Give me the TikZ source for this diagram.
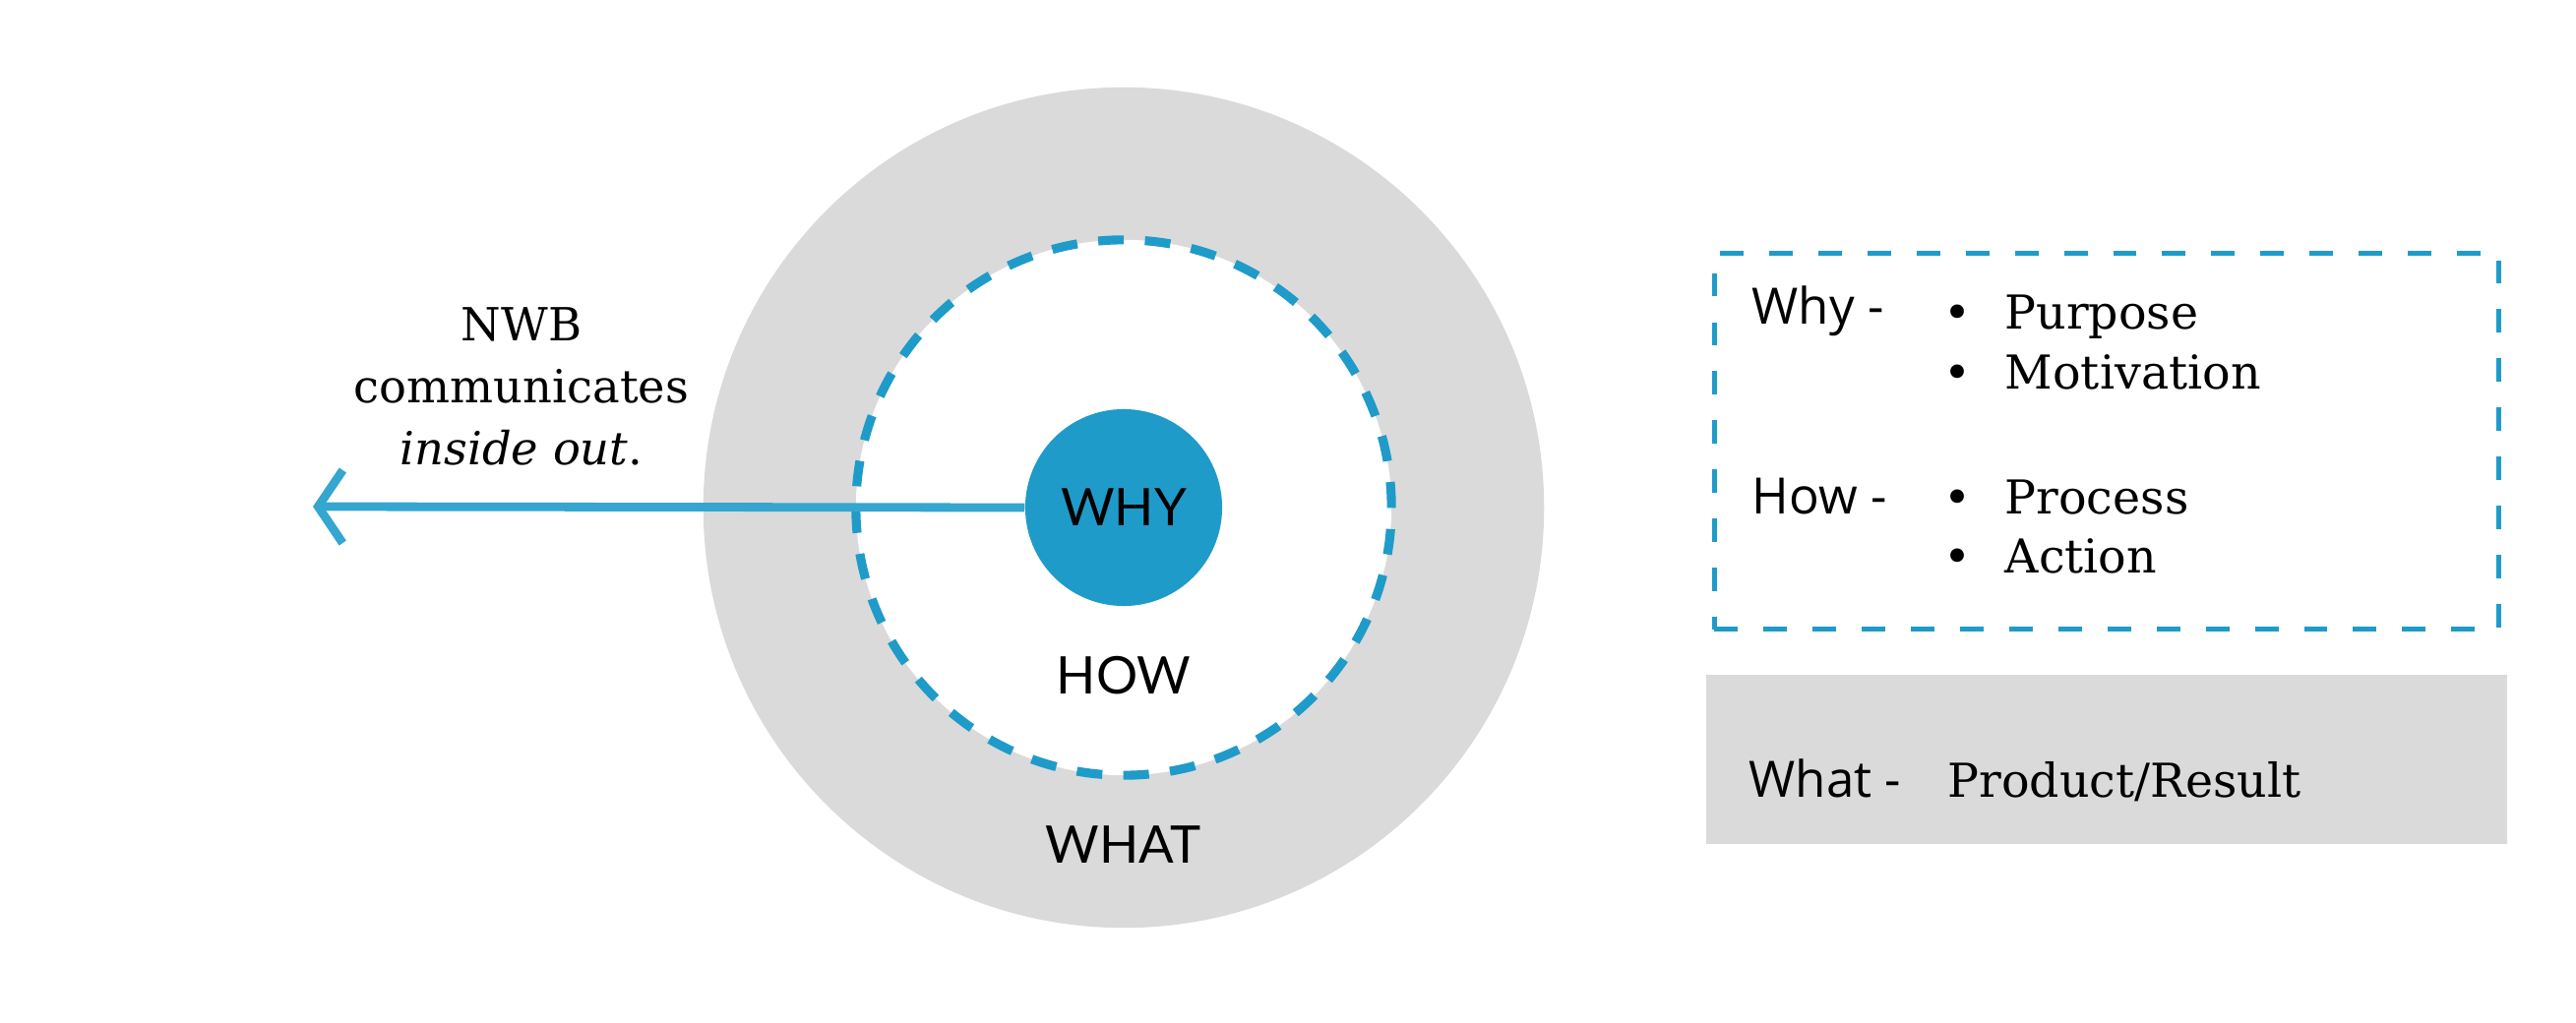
\documentclass[tikz,border=0pt]{standalone}
\usepackage{fontspec}
\setmainfont{DejaVu Serif}
\newfontfamily\ringfont{Lato}
\newfontfamily\keyfont{Open Sans}
\usetikzlibrary{arrows.meta}
\definecolor{ringgrey}{HTML}{DADADA}
\definecolor{whyblue}{HTML}{1F9BC9}
\definecolor{arrowblue}{HTML}{35A6CF}

\begin{document}
\begin{tikzpicture}[x=0.01cm, y=-0.01cm,
    ring/.style={circle, inner sep=0pt},
    ringlabel/.style={font=\ringfont\fontsize{15}{18}\selectfont},
    keylabel/.style={font=\keyfont\fontsize{14.5}{17}\selectfont, anchor=base west, inner sep=0pt},
    itemtext/.style={font=\fontsize{13.5}{16}\selectfont, anchor=base west, inner sep=0pt}]
  \useasboundingbox (0,0) rectangle (2618,1040);
  % the three circles
  \node[ring, fill=ringgrey, minimum size=8.54cm] (what) at (1142,516) {};
  \node[ring, fill=white, draw=whyblue, line width=2.6pt, dash pattern=on 7.4pt off 6.106pt,
        minimum size=5.44cm] (how) at (1142,516) {};
  \node[ring, fill=whyblue, minimum size=2cm, ringlabel] (why) at (1142,516) {WHY};
  \node[ringlabel] (howlbl) at (1142,687) {HOW};
  \node[ringlabel] (whatlbl) at (1142,859) {WHAT};
  % arrow out
  \coordinate (tip) at (318,515);
  \draw[arrowblue, line width=2.5pt, -{Straight Barb[length=0.25cm, width=0.74cm]}] (why.west) -- (tip);
  \node[align=center, font=\fontsize{13.2}{17.8}\selectfont] (note) at (530,393)
    {NWB\\communicates\\\textit{inside out}.};
  % legend
  \node[draw=whyblue, line width=1.3pt, dash pattern=on 6.8pt off 7.4pt, inner sep=0pt,
        minimum width=7.97cm, minimum height=3.82cm, anchor=north west] (howbox) at (1740,255) {};
  \node[fill=ringgrey, inner sep=0pt, minimum width=8.14cm, minimum height=1.72cm,
        anchor=north west] (whatbox) at (1733,685) {};
  \node[keylabel] (whykey) at (1780,330) {Why -};
  \node[keylabel] (howkey) at (1780,523) {How -};
  \node[keylabel] (whatkey) at (1777,810) {What -};
  \foreach \name/\txt/\y in {purpose/Purpose/335, motivation/Motivation/396,
                             process/Process/522, action/Action/583} {
    \node[itemtext, anchor=base] (\name-dot) at (1989,\y) {\textbullet};
    \node[itemtext] (\name) at (2037,\y) {\txt};
  }
  \node[itemtext] (result) at (1979,810) {Product/Result};
\end{tikzpicture}
\end{document}
